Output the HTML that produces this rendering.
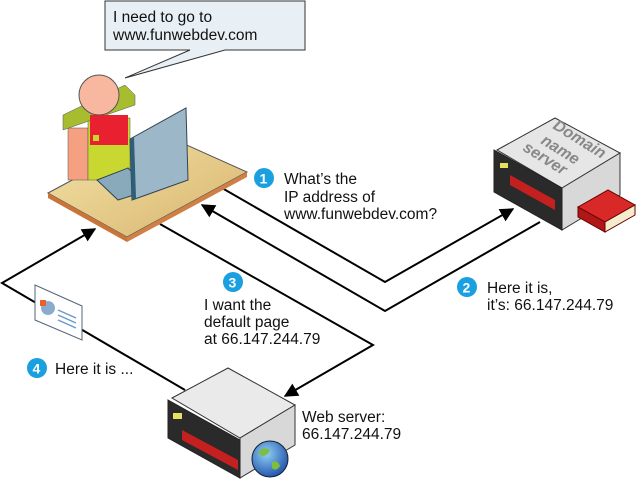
<!DOCTYPE html>
<html><head><style>body{margin:0;background:#fff}svg{display:block}text{font-family:"Liberation Sans",sans-serif;font-size:15.5px;fill:#111}</style></head>
<body>
<svg width="640" height="481" viewBox="0 0 640 481">
<defs>
<marker id="a" viewBox="0 0 10 10" refX="9" refY="5" markerWidth="7" markerHeight="7" orient="auto"><path d="M0,0L10,5L0,10z" fill="#000"/></marker>
<linearGradient id="desk" x1="0" y1="0" x2="1" y2="1"><stop offset="0" stop-color="#f2e4a8"/><stop offset="1" stop-color="#d9b46e"/></linearGradient>
<radialGradient id="g" cx=".4" cy=".35" r=".7"><stop offset="0" stop-color="#8fd0f5"/><stop offset="1" stop-color="#1f4fa8"/></radialGradient>
</defs>
<g fill="none" stroke="#000" stroke-width="2">
<polyline points="222,188 385,282 513,209" marker-end="url(#a)"/>
<polyline points="540,222 385,311 202,205" marker-end="url(#a)"/>
<polyline points="160,224 373,345 285,396" marker-end="url(#a)"/>
<polyline points="185,390 2,283 95,229" marker-end="url(#a)"/>
</g>
<path d="M105,1H305V50H225L125,78L190,50H105Z" fill="#e8f0f6" stroke="#333" stroke-width="1"/>
<text x="113" y="22">I need to go to</text>
<text x="113" y="40">www.funwebdev.com</text>
<polygon points="48,193 160,133 247,172 127,237" fill="url(#desk)" stroke="#555"/>
<polygon points="48,193 127,237 127,242 48,198" fill="#c9753a"/>
<polygon points="127,237 247,172 247,177 127,242" fill="#d08045"/>
<rect x="68" y="128" width="20" height="52" fill="#f5a080" stroke="#555" stroke-width=".5"/>
<rect x="88" y="118" width="42" height="62" fill="#c8d830" stroke="#555" stroke-width=".5"/>
<polygon points="63,115 125,85 135,95 135,105 63,130" fill="#a8bc30" stroke="#555" stroke-width=".5"/>
<rect x="90" y="115" width="38" height="30" fill="#e82030"/>
<rect x="93" y="135" width="6" height="6" fill="#c8d830"/>
<circle cx="99" cy="95" r="20" fill="#f8b8a0" stroke="#555"/>
<polygon points="97,180 128,168 150,190 118,200" fill="#88aabb" stroke="#345"/>
<polygon points="130,139 186,108 188,180 132,200" fill="#9cb8c8" stroke="#345"/>
<polygon points="130,139 134,137 136,198 132,200" fill="#2f5f78"/>
<polygon points="497,150 555,118 620,153 562,188" fill="#e6e6e6" stroke="#333"/>
<polygon points="562,188 620,153 620,195 562,230" fill="#d8d8d8" stroke="#333"/>
<polygon points="494,150 562,188 562,230 494,192" fill="#2a2a2a" stroke="#222"/>
<polygon points="510,175 555,200 555,210 510,185" fill="#c42020"/>
<rect x="500" y="163" width="8" height="5" fill="#e8e060"/>
<text transform="translate(552,128) rotate(32)" style="font-size:16px;fill:#888;font-style:italic;font-weight:bold">Domain</text>
<text transform="translate(540,143) rotate(32)" style="font-size:16px;fill:#888;font-style:italic;font-weight:bold">name</text>
<text transform="translate(522,150) rotate(32)" style="font-size:16px;fill:#888;font-style:italic;font-weight:bold">server</text>
<polygon points="578,207 608,190 635,205 605,222" fill="#d82828" stroke="#600"/>
<polygon points="578,207 605,222 605,232 578,217" fill="#b01818" stroke="#600"/>
<polygon points="605,222 635,205 635,215 605,232" fill="#f4eccc" stroke="#600"/>
<polygon points="172,398 228,368 295,405 240,438" fill="#eaeaea" stroke="#333"/>
<polygon points="240,438 295,405 295,445 240,478" fill="#d8d8d8" stroke="#333"/>
<polygon points="168,400 240,440 240,478 168,438" fill="#2a2a2a" stroke="#222"/>
<polygon points="182,430 238,460 238,470 182,440" fill="#c42020"/>
<rect x="173" y="413" width="9" height="6" fill="#e8e060"/>
<circle cx="270" cy="459" r="18" fill="url(#g)" stroke="#123"/>
<path d="M258,452q6,-6 12,-2q-2,6 -8,6zM272,462q6,-2 8,4q-4,6 -8,2z" fill="#7cbf3c"/>
<polygon points="35,285 82,306 82,340 35,320" fill="#fff" stroke="#567"/>
<circle cx="48" cy="308" r="7" fill="#8aaccc"/>
<rect x="40" y="300" width="6" height="6" fill="#e86030"/>
<g stroke="#6a9acc" stroke-width="1.5"><line x1="58" y1="310" x2="76" y2="318"/><line x1="58" y1="315" x2="76" y2="323"/><line x1="58" y1="320" x2="76" y2="328"/></g>
<circle cx="264" cy="178" r="10" fill="#1aa0e0"/><text x="259.5" y="183.5" style="fill:#fff;font-weight:bold;font-size:14px">1</text>
<circle cx="467" cy="287" r="10" fill="#1aa0e0"/><text x="462.5" y="292.5" style="fill:#fff;font-weight:bold;font-size:14px">2</text>
<circle cx="233" cy="282" r="10" fill="#1aa0e0"/><text x="228.5" y="287.5" style="fill:#fff;font-weight:bold;font-size:14px">3</text>
<circle cx="37" cy="368" r="10" fill="#1aa0e0"/><text x="32.5" y="373.5" style="fill:#fff;font-weight:bold;font-size:14px">4</text>
<text x="284" y="184">What’s the</text>
<text x="284" y="202">IP address of</text>
<text x="284" y="219">www.funwebdev.com?</text>
<text x="487" y="293">Here it is,</text>
<text x="487" y="310">it’s: 66.147.244.79</text>
<text x="204" y="310">I want the</text>
<text x="204" y="327">default page</text>
<text x="204" y="344">at 66.147.244.79</text>
<text x="55" y="374">Here it is ...</text>
<text x="302" y="422">Web server:</text>
<text x="302" y="439">66.147.244.79</text>
</svg>
</body></html>
